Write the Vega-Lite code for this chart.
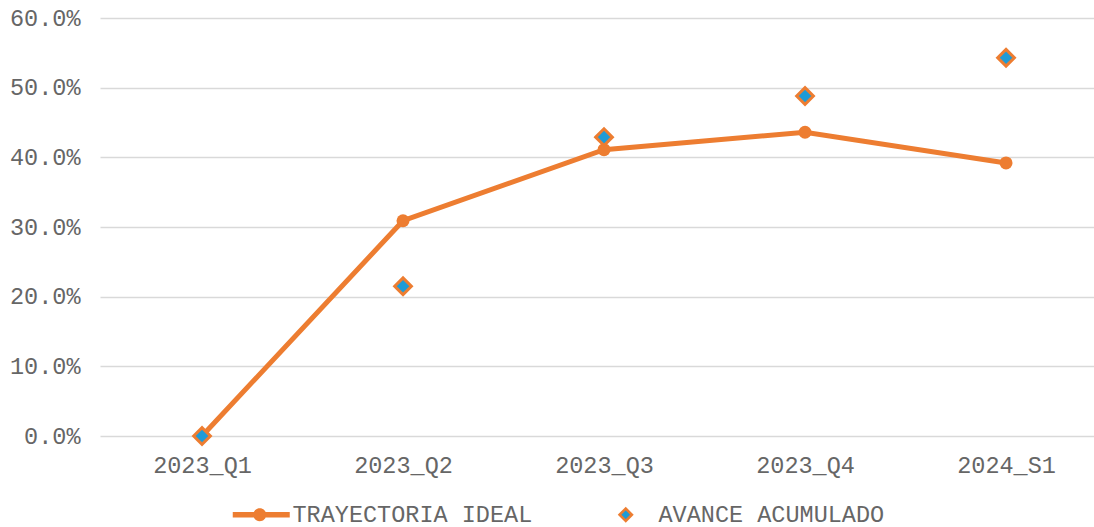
{
  "$schema": "https://vega.github.io/schema/vega-lite/v6.json",
  "width": 994,
  "height": 418,
  "autosize": {"type": "none"},
  "padding": {"left": 100, "top": 18, "right": 0, "bottom": 91},
  "background": "white",
  "config": {"view": {"stroke": null}, "font": "Liberation Mono"},
  "data": {
    "values": [
      {"period": "2023_Q1", "series": "TRAYECTORIA IDEAL", "value": 0},
      {"period": "2023_Q2", "series": "TRAYECTORIA IDEAL", "value": 0.309},
      {"period": "2023_Q3", "series": "TRAYECTORIA IDEAL", "value": 0.411},
      {"period": "2023_Q4", "series": "TRAYECTORIA IDEAL", "value": 0.436},
      {"period": "2024_S1", "series": "TRAYECTORIA IDEAL", "value": 0.392},
      {"period": "2023_Q1", "series": "AVANCE ACUMULADO", "value": 0},
      {"period": "2023_Q2", "series": "AVANCE ACUMULADO", "value": 0.215},
      {"period": "2023_Q3", "series": "AVANCE ACUMULADO", "value": 0.429},
      {"period": "2023_Q4", "series": "AVANCE ACUMULADO", "value": 0.488},
      {"period": "2024_S1", "series": "AVANCE ACUMULADO", "value": 0.543}
    ]
  },
  "encoding": {
    "x": {
      "field": "period",
      "type": "nominal",
      "sort": null,
      "scale": {"type": "point", "padding": 0.4726, "align": 0.537},
      "axis": {
        "title": null,
        "labelAngle": 0,
        "domain": false,
        "ticks": false,
        "grid": false,
        "labelPadding": 17,
        "labelFontSize": 23.5,
        "labelColor": "#666666",
        "labelFont": "Liberation Mono"
      }
    },
    "y": {
      "field": "value",
      "type": "quantitative",
      "scale": {"domain": [0, 0.6], "nice": false},
      "axis": {
        "title": null,
        "format": ".1%",
        "values": [0, 0.1, 0.2, 0.3, 0.4, 0.5, 0.6],
        "domain": false,
        "ticks": false,
        "gridColor": "#d9d9d9",
        "gridWidth": 1.5,
        "labelPadding": 20,
        "labelFontSize": 23.5,
        "labelColor": "#666666",
        "labelFont": "Liberation Mono"
      }
    }
  },
  "layer": [
    {
      "transform": [{"filter": "datum.series === 'TRAYECTORIA IDEAL'"}],
      "mark": {"type": "line", "color": "#ED7D31", "strokeWidth": 5, "clip": false}
    },
    {
      "transform": [{"filter": "datum.series === 'TRAYECTORIA IDEAL'"}],
      "mark": {"type": "point", "shape": "circle", "filled": true, "strokeWidth": 0, "size": 169, "opacity": 1, "clip": false},
      "encoding": {
        "color": {
          "field": "series",
          "type": "nominal",
          "scale": {"domain": ["TRAYECTORIA IDEAL"], "range": ["#ED7D31"]},
          "legend": {
            "orient": "none",
            "legendX": 148,
            "legendY": 485,
            "direction": "horizontal",
            "title": null,
            "symbolType": "M-2.7,-0.28H3V0.28H-2.7Z M0.65,0A0.65,0.65,0,1,1,-0.65,0A0.65,0.65,0,1,1,0.65,0Z",
            "symbolSize": 400,
            "symbolStrokeWidth": 0,
            "symbolOpacity": 1,
            "labelFontSize": 23.5,
            "labelColor": "#666666",
            "labelFont": "Liberation Mono",
            "labelLimit": 500,
            "labelOffset": 21,
            "padding": 0
          }
        }
      }
    },
    {
      "transform": [{"filter": "datum.series === 'AVANCE ACUMULADO'"}],
      "mark": {"type": "point", "shape": "diamond", "filled": true, "stroke": "#ED7D31", "strokeWidth": 3, "size": 280, "opacity": 1, "clip": false},
      "encoding": {
        "fill": {
          "field": "series",
          "type": "nominal",
          "scale": {"domain": ["AVANCE ACUMULADO"], "range": ["#1E9BD7"]},
          "legend": {
            "orient": "none",
            "legendX": 514,
            "legendY": 485,
            "direction": "horizontal",
            "title": null,
            "symbolType": "M-0.62,0L0,-0.62L0.62,0L0,0.62Z",
            "symbolSize": 400,
            "symbolStrokeColor": "#ED7D31",
            "symbolStrokeWidth": 2.5,
            "symbolOpacity": 1,
            "labelFontSize": 23.5,
            "labelColor": "#666666",
            "labelFont": "Liberation Mono",
            "labelLimit": 500,
            "labelOffset": 21,
            "padding": 0
          }
        }
      }
    }
  ]
}
